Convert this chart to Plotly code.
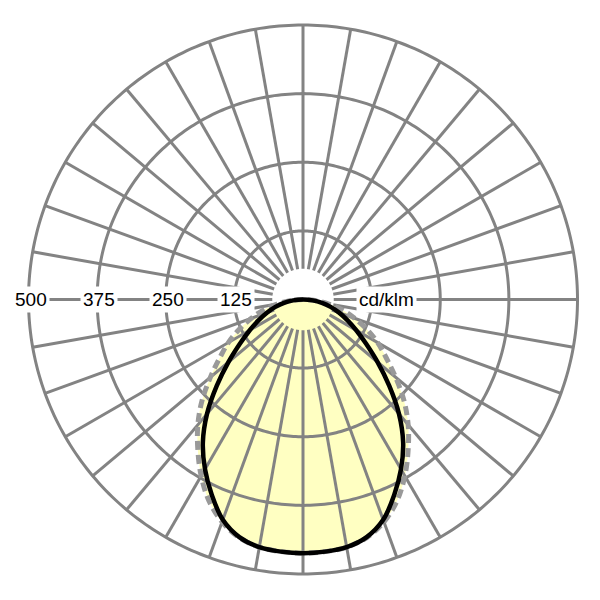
import numpy as np
import plotly.graph_objects as go

# Luminous intensity (cd/klm), gamma = 0 points straight down
GAMMA = [0, 5, 10, 15, 20, 25, 30, 35, 40, 45, 50, 55, 60, 65, 70, 75, 80, 85, 90]
I_C0_C180 = [462, 461, 458, 448, 427, 393, 357, 318, 272, 222, 177, 140, 112, 89, 70, 52, 35, 18, 0]
I_C90_C270 = [462, 461, 458, 449, 431, 405, 371, 334, 298, 260, 220, 185, 157, 128, 100, 75, 48, 22, 0]

RING_VALUES = [125, 250, 375, 500]
RING_LABELS = ['125', '250', '375', '500']
UNIT_LABEL = 'cd/klm'
UNIT_R = 152
SPOKE_STEP = 10
SPOKE_START = 56

# Geometry of the picture (pixels); the page body adds an 8px margin
W = H = 600
PAGE_OFFSET = 8
CX, CY = 303 - PAGE_OFFSET, 299.5 - PAGE_OFFSET
R500 = 274.5
RMAX = 510

GRID = '#838383'
FILL = '#FFFFC2'
FONT = 'Liberation Sans, Arial, sans-serif'


def mirror(values):
    theta = [-g for g in GAMMA[::-1]] + GAMMA[1:]
    r = values[::-1] + values[1:]
    return theta, r


fig = go.Figure()

# yellow area for both planes
for vals in (I_C90_C270, I_C0_C180):
    th, rr = mirror(vals)
    fig.add_trace(go.Scatterpolar(
        r=rr, theta=th, mode='lines', fill='toself', fillcolor=FILL,
        line=dict(color='rgba(0,0,0,0)', width=0, shape='spline'),
        hoverinfo='skip', showlegend=False
    ))

# rings
ring_theta = np.linspace(0, 360, 361)
for v in RING_VALUES:
    fig.add_trace(go.Scatterpolar(
        r=[v] * len(ring_theta), theta=ring_theta, mode='lines',
        line=dict(color=GRID, width=3), hoverinfo='skip', showlegend=False
    ))

# spokes
sr, st = [], []
for a in range(0, 360, SPOKE_STEP):
    sr += [SPOKE_START, RING_VALUES[-1], None]
    st += [a, a, None]
fig.add_trace(go.Scatterpolar(
    r=sr, theta=st, mode='lines', line=dict(color=GRID, width=3),
    hoverinfo='skip', showlegend=False
))

# C90-C270 dashed, C0-C180 solid
th, rr = mirror(I_C90_C270)
fig.add_trace(go.Scatterpolar(
    r=rr, theta=th, mode='lines',
    line=dict(color='#999999', width=5, dash='9px,5px', shape='spline'),
    name='C90-C270', showlegend=False
))
th, rr = mirror(I_C0_C180)
fig.add_trace(go.Scatterpolar(
    r=rr, theta=th, mode='lines', line=dict(color='black', width=4.5, shape='spline'),
    name='C0-C180', showlegend=False
))

full_px = R500 * RMAX / 500
ycen = (H - CY) / H

annotations = []
for v, lab in zip(RING_VALUES, RING_LABELS):
    annotations.append(dict(
        x=(CX - v / 500 * R500) / W, y=ycen, xref='paper', yref='paper',
        text=lab, showarrow=False, xanchor='center', yanchor='middle',
        bgcolor='white', borderpad=2, xshift=2,
        font=dict(family=FONT, size=19, color='black')
    ))
annotations.append(dict(
    x=(CX + UNIT_R / 500 * R500) / W, y=ycen, xref='paper', yref='paper',
    text=UNIT_LABEL, showarrow=False, xanchor='center', yanchor='middle',
    bgcolor='white', borderpad=2,
    font=dict(family=FONT, size=19, color='black')
))

fig.update_layout(
    width=W, height=H,
    margin=dict(l=0, r=0, t=0, b=0),
    paper_bgcolor='white',
    showlegend=False,
    annotations=annotations,
    polar=dict(
        domain=dict(x=[(CX - full_px) / W, (CX + full_px) / W],
                    y=[ycen - full_px / H, ycen + full_px / H]),
        bgcolor='white',
        radialaxis=dict(range=[0, RMAX], visible=False, showgrid=False),
        angularaxis=dict(rotation=-90, direction='counterclockwise', showgrid=False,
                         showline=False, showticklabels=False, ticks=''),
    ),
)

fig.write_html("out.html")
